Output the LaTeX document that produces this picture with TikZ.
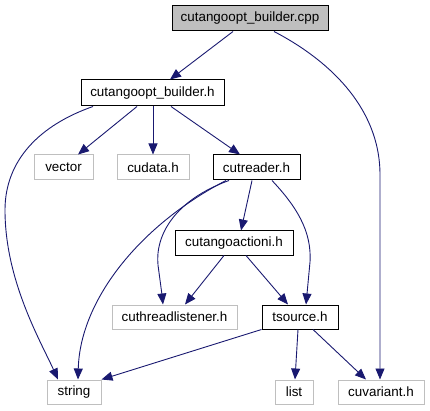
\documentclass[tikz,border=0pt]{standalone}
\usepackage{fontspec}
\setmainfont{Liberation Sans}
\usetikzlibrary{arrows.meta}
\definecolor{edgec}{HTML}{191970}
\definecolor{greyb}{HTML}{BFBFBF}
\begin{document}
\begin{tikzpicture}[x=1pt,y=-1pt,
  box/.style 2 args={draw=black, line width=1pt, minimum width=#1pt, minimum height=#2pt, inner sep=0pt, font=\fontsize{13.4}{15}\selectfont},
  ext/.style 2 args={box={#1}{#2}, draw=greyb},
  dep/.style={draw=edgec, line width=0.9pt, -{Triangle[length=11pt,width=9pt]}}]
\useasboundingbox (0,0) rectangle (430,411);
\node[box={156}{25}, fill=greyb] (cpp) at (250,18.5) {cutangoopt\_builder.cpp};
\node[box={143}{26}] (bld) at (152.5,93) {cutangoopt\_builder.h};
\node[ext={59}{25}] (vec) at (63.5,167.5) {vector};
\node[ext={72}{25}] (cud) at (153,167.5) {cudata.h};
\node[box={87}{25}] (crd) at (256.5,167.5) {cutreader.h};
\node[box={118}{24}] (cai) at (234,243) {cutangoactioni.h};
\node[ext={125}{24}] (ctl) at (174.5,317) {cuthreadlistener.h};
\node[box={76}{24}] (tsr) at (300,317) {tsource.h};
\node[ext={54}{24}] (str) at (74,392) {string};
\node[ext={38}{24}] (lst) at (294,392) {list};
\node[ext={86}{24}] (cuv) at (381,392) {cuvariant.h};

\draw[dep] ([xshift=-17pt]cpp.south) -- ([xshift=17.5pt]bld.north);
\draw[dep] ([xshift=24pt]cpp.south) .. controls (325,58) and (380,105) .. (380,175) -- ([xshift=-1pt]cuv.north);
\draw[dep] ([xshift=-59.5pt]bld.south) .. controls (40,125) and (5,160) .. (5,210) .. controls (5,280) and (40,340) .. ([xshift=-16pt]str.north);
\draw[dep] ([xshift=-15.5pt]bld.south) -- ([xshift=14.5pt]vec.north);
\draw[dep] ([xshift=0.5pt]bld.south) -- (cud.north);
\draw[dep] ([xshift=18.5pt]bld.south) -- ([xshift=-16.5pt]crd.north);
\draw[dep] ([xshift=-30.5pt]crd.south) .. controls (140,225) and (80,300) .. ([xshift=4pt]str.north);
\draw[dep] ([xshift=-27.5pt]crd.south) .. controls (175,200) and (155,235) .. (158,265) .. controls (160,280) and (162,295) .. ([xshift=-11.5pt]ctl.north);
\draw[dep] ([xshift=-4.5pt]crd.south) -- ([xshift=7pt]cai.north);
\draw[dep] ([xshift=15.5pt]crd.south) .. controls (295,205) and (312,230) .. (310,262) -- ([xshift=6pt]tsr.north);
\draw[dep] ([xshift=-10pt]cai.south) -- ([xshift=10.5pt]ctl.north);
\draw[dep] ([xshift=12pt]cai.south) -- ([xshift=-12pt]tsr.north);
\draw[dep] (tsr.south west) -- (str.north east);
\draw[dep] ([xshift=-2pt]tsr.south) -- ([xshift=1pt]lst.north);
\draw[dep] ([xshift=13pt]tsr.south) -- ([xshift=-15pt]cuv.north);
\end{tikzpicture}
\end{document}
